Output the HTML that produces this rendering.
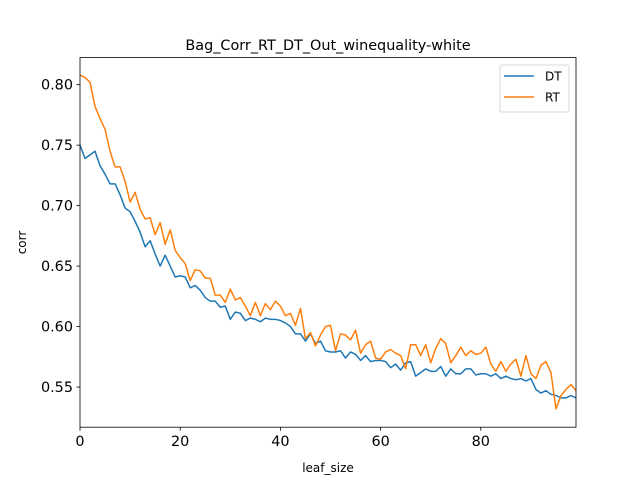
<!DOCTYPE html>
<html><head><meta charset="utf-8"><style>
body{margin:0;background:#fff;}
svg text{font-family:"DejaVu Sans","Liberation Sans",sans-serif;fill:#000;}
</style></head><body>
<svg id="chart" width="640" height="480" viewBox="0 0 640 480" xmlns="http://www.w3.org/2000/svg">
<rect width="640" height="480" fill="#fff"/>
<text x="328" y="50" font-size="14.4" text-anchor="middle">Bag_Corr_RT_DT_Out_winequality-white</text>
<g id="plot"></g>
<text x="328" y="472" font-size="12" text-anchor="middle">leaf_size</text>
<text transform="translate(26,242.5) rotate(-90)" font-size="12" text-anchor="middle">corr</text>
</svg>
<script>
const xTicks=[0,20,40,60,80];
const yTicks=[0.55,0.60,0.65,0.70,0.75,0.80];
const yTickLabels=["0.55","0.60","0.65","0.70","0.75","0.80"];
const dtValues=[0.750,0.739,0.742,0.745,0.733,0.726,0.718,0.718,0.709,0.698,0.695,0.687,0.678,0.666,0.671,0.660,0.650,0.659,0.650,0.641,0.642,0.641,0.632,0.634,0.630,0.624,0.621,0.621,0.616,0.617,0.606,0.612,0.611,0.605,0.607,0.606,0.604,0.607,0.606,0.606,0.605,0.603,0.600,0.594,0.594,0.588,0.594,0.586,0.588,0.580,0.579,0.579,0.580,0.574,0.579,0.577,0.572,0.576,0.571,0.572,0.572,0.571,0.566,0.569,0.564,0.570,0.571,0.559,0.562,0.565,0.563,0.563,0.567,0.559,0.565,0.561,0.561,0.565,0.565,0.560,0.561,0.561,0.559,0.561,0.557,0.559,0.557,0.556,0.557,0.555,0.557,0.548,0.545,0.547,0.544,0.543,0.541,0.541,0.543,0.541];
const rtValues=[0.808,0.806,0.802,0.782,0.772,0.763,0.745,0.732,0.732,0.720,0.703,0.711,0.697,0.689,0.690,0.676,0.686,0.668,0.680,0.663,0.657,0.652,0.638,0.647,0.646,0.640,0.640,0.626,0.626,0.620,0.631,0.622,0.624,0.617,0.609,0.620,0.609,0.619,0.614,0.621,0.617,0.609,0.611,0.601,0.615,0.590,0.595,0.584,0.593,0.600,0.601,0.580,0.594,0.593,0.589,0.597,0.578,0.585,0.588,0.574,0.573,0.579,0.581,0.578,0.576,0.565,0.585,0.585,0.576,0.585,0.570,0.582,0.590,0.586,0.570,0.576,0.583,0.576,0.580,0.577,0.578,0.583,0.569,0.563,0.571,0.563,0.569,0.573,0.559,0.576,0.561,0.557,0.568,0.571,0.562,0.532,0.543,0.548,0.552,0.547];
const NS="http://www.w3.org/2000/svg";
const L=80,R=576,T=57.6,B=427.2;
const xMin=0,xMax=99,yMin=0.5168,yMax=0.8224;
function xs(v){return L+(v-xMin)/(xMax-xMin)*(R-L);}
function ys(v){return B-(v-yMin)/(yMax-yMin)*(B-T);}
const g=document.getElementById('plot');
function mk(tag,attrs){const e=document.createElementNS(NS,tag);for(const k in attrs)e.setAttribute(k,attrs[k]);g.appendChild(e);return e;}
function series(vals,color,name){
  const pts=vals.map((v,i)=>xs(i).toFixed(2)+','+ys(v).toFixed(2)).join(' ');
  const p=mk('polyline',{points:pts,fill:'none',stroke:color,'stroke-width':1.5,'stroke-linejoin':'round','stroke-linecap':'square'});
  
  
}
const cp=mk('clipPath',{id:'clip'});cp.appendChild(document.createElementNS(NS,'rect'));
const cr=cp.firstChild;cr.setAttribute('x',L);cr.setAttribute('y',T);cr.setAttribute('width',R-L);cr.setAttribute('height',B-T);
const sg=document.createElementNS(NS,'g');sg.setAttribute('clip-path','url(#clip)');
const gPrev=g;
series(dtValues,'#1f77b4','dt-line');
series(rtValues,'#ff7f0e','rt-line');
// move lines into clip group
[...g.querySelectorAll('polyline')].forEach(p=>sg.appendChild(p));g.appendChild(sg);
xTicks.forEach(t=>{
  const ln=mk('line',{x1:xs(t),x2:xs(t),y1:B,y2:B+3.5,stroke:'#000','stroke-width':0.8});
  
  
  const tx=mk('text',{x:xs(t),y:B+19,'font-size':14.4,'text-anchor':'middle'});tx.textContent=t;
  
  
});
yTicks.forEach((t,i)=>{
  const ln=mk('line',{x1:L-3.5,x2:L,y1:ys(t),y2:ys(t),stroke:'#000','stroke-width':0.8});
  
  
  const tx=mk('text',{x:L-7,y:ys(t)+5,'font-size':14.4,'text-anchor':'end'});tx.textContent=yTickLabels[i];
  
  
});
const fr=mk('rect',{x:L,y:T,width:R-L,height:B-T,fill:'none',stroke:'#000','stroke-width':0.8});


const lg=mk('rect',{x:500,y:65,width:69,height:47,rx:2,fill:'#fff','fill-opacity':0.8,stroke:'#ccc','stroke-width':0.8});


[['DT','#1f77b4',76],['RT','#ff7f0e',97]].forEach(([n,c,y])=>{
  const ln=mk('line',{x1:504,x2:534,y1:y,y2:y,stroke:c,'stroke-width':1.5});
  
  
  const tx=mk('text',{x:545,y:y+4.5,'font-size':12});tx.textContent=n;
  
  
});
</script>
</body></html>
